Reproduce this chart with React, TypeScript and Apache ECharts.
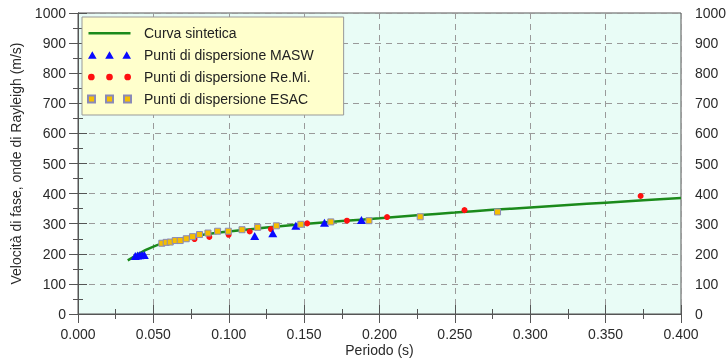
import React, { useEffect, useRef } from "react";
import * as echarts from "echarts";

const curveX = [0.033, 0.037, 0.041, 0.045, 0.050, 0.055, 0.060, 0.065, 0.070, 0.075, 0.080, 0.090, 0.100, 0.125, 0.150, 0.175, 0.200, 0.225, 0.250, 0.275, 0.300, 0.325, 0.350, 0.375, 0.400];
const curveY = [178, 190, 202, 213, 224, 233, 240, 247, 252, 257, 261, 268, 274, 287, 299, 309, 318, 328, 337, 346, 354, 362, 370, 378, 385];

const maswX = [0.038, 0.0395, 0.041, 0.0425, 0.044, 0.1172, 0.1292, 0.1445, 0.1635, 0.188];
const maswY = [193, 194, 195, 196, 196, 259, 268, 293, 303, 312];

const remiX = [0.0773, 0.0871, 0.0999, 0.1139, 0.128, 0.152, 0.1784, 0.205, 0.2564, 0.3732];
const remiY = [249, 256, 263, 274, 282, 301, 310, 322, 345, 392];

const esacX = [0.0556, 0.0585, 0.0612, 0.0645, 0.0678, 0.0718, 0.076, 0.0806, 0.0862, 0.0926, 0.0997, 0.1088, 0.1192, 0.1316, 0.1478, 0.1677, 0.193, 0.227, 0.2783];
const esacY = [235, 238, 239, 244, 244, 250, 257, 264, 269, 275, 275, 280, 288, 293, 298, 306, 310, 323, 339];

const seriesNames = [
  "Curva sintetica",
  "Punti di dispersione MASW",
  "Punti di dispersione Re.Mi.",
  "Punti di dispersione ESAC",
];

const xName = "Periodo (s)";
const yName = "Velocità di fase, onde di Rayleigh (m/s)";

const zip = (xs: number[], ys: number[]) => xs.map((x, i) => [x, ys[i]]);

const FONT = "Liberation Sans, Arial, sans-serif";

const lineIcon = "path://M0,3 L42,3 L42,5.5 L0,5.5 Z M0,0 L0.01,0 L0.01,8 L0,8 Z";
const triIcon = "path://M0,8 L4.5,0 L9,8 Z M18,8 L22.5,0 L27,8 Z M36,8 L40.5,0 L45,8 Z";
const circIcon =
  "path://M0,4 a3.5,3.5 0 1,0 7,0 a3.5,3.5 0 1,0 -7,0 Z M19,4 a3.5,3.5 0 1,0 7,0 a3.5,3.5 0 1,0 -7,0 Z M38,4 a3.5,3.5 0 1,0 7,0 a3.5,3.5 0 1,0 -7,0 Z";
const sqIcon = "path://M1,1 L8,1 L8,8 L1,8 Z M19,1 L26,1 L26,8 L19,8 Z M37,1 L44,1 L44,8 L37,8 Z";

export default function App() {
  const ref = useRef<HTMLDivElement>(null);
  useEffect(() => {
    if (!ref.current) return;
    const chart = echarts.init(ref.current, undefined, { renderer: "svg" });
    const axisLineStyle = { color: "#555", width: 1 };
    const labelStyle = { color: "#2a2a2a", fontSize: 14, fontFamily: FONT };
    const fmtY = (v: number) => String(v);
    chart.setOption({
      animation: false,
      textStyle: { fontFamily: FONT },
      grid: {
        left: 78,
        right: 47,
        top: 13,
        bottom: 45,
        outerBoundsMode: "none",
        containLabel: false,
        show: true,
        backgroundColor: "#e9fcf6",
        borderColor: "#555",
        borderWidth: 1,
      },
      legend: {
        orient: "vertical",
        left: 82,
        top: 17,
        backgroundColor: "#ffffcc",
        borderColor: "#999",
        borderWidth: 1,
        borderRadius: 0,
        padding: [8, 30, 8, 5],
        itemGap: 6,
        itemWidth: 43,
        itemHeight: 8,
        textStyle: { fontSize: 14, color: "#222", fontFamily: FONT, lineHeight: 16, padding: [0, 0, 0, 8] },
        data: [
          { name: seriesNames[0], icon: lineIcon, itemStyle: { color: "#1b8a1b" } },
          { name: seriesNames[1], icon: triIcon },
          { name: seriesNames[2], icon: circIcon },
          { name: seriesNames[3], icon: sqIcon },
        ],
      },
      xAxis: [
        {
          type: "value",
          min: 0,
          max: 0.4,
          interval: 0.05,
          position: "bottom",
          name: xName,
          nameLocation: "middle",
          nameGap: 29,
          nameMoveOverlap: false,
          nameTextStyle: { color: "#2a2a2a", fontSize: 14, lineHeight: 14, fontFamily: FONT },
          axisLine: { show: true, lineStyle: axisLineStyle },
          axisTick: { show: true, length: 9, lineStyle: axisLineStyle },
          minorTick: { show: true, splitNumber: 2, length: 5, lineStyle: axisLineStyle },
          axisLabel: { ...labelStyle, margin: 13, formatter: (v: number) => v.toFixed(3) },
          splitLine: { show: true, lineStyle: { color: "#9a9a9a", type: [6, 5], width: 1 } },
        },
        {
          type: "value",
          min: 0,
          max: 0.4,
          interval: 0.05,
          position: "top",
          axisLine: { show: true, lineStyle: axisLineStyle },
          axisTick: { show: true, length: 9, lineStyle: axisLineStyle },
          minorTick: { show: true, splitNumber: 2, length: 5, lineStyle: axisLineStyle },
          axisLabel: { show: false },
          splitLine: { show: false },
        },
      ],
      yAxis: [
        {
          type: "value",
          min: 0,
          max: 1000,
          interval: 100,
          position: "left",
          name: yName,
          nameLocation: "middle",
          nameGap: 55,
          nameMoveOverlap: false,
          nameTextStyle: { color: "#2a2a2a", fontSize: 14, fontFamily: FONT },
          axisLine: { show: true, lineStyle: axisLineStyle },
          axisTick: { show: true, length: 9, lineStyle: axisLineStyle },
          minorTick: { show: true, splitNumber: 2, length: 5, lineStyle: axisLineStyle },
          axisLabel: { ...labelStyle, margin: 12, formatter: fmtY },
          splitLine: { show: true, lineStyle: { color: "#9a9a9a", type: [6, 5], width: 1 } },
        },
        {
          type: "value",
          min: 0,
          max: 1000,
          interval: 100,
          position: "right",
          axisLine: { show: true, lineStyle: axisLineStyle },
          axisTick: { show: true, length: 9, lineStyle: axisLineStyle },
          minorTick: { show: true, splitNumber: 2, length: 5, lineStyle: axisLineStyle },
          axisLabel: { ...labelStyle, margin: 14, formatter: fmtY },
          splitLine: { show: false },
        },
      ],
      series: [
        {
          name: seriesNames[0],
          type: "line",
          data: zip(curveX, curveY),
          smooth: 0.3,
          symbol: "none",
          lineStyle: { color: "#1b8a1b", width: 2.5 },
          itemStyle: { color: "#1b8a1b" },
          z: 2,
        },
        {
          name: seriesNames[2],
          type: "scatter",
          data: zip(remiX, remiY),
          symbol: "circle",
          symbolSize: 6,
          itemStyle: { color: "#ff1010", opacity: 1 },
          z: 3,
        },
        {
          name: seriesNames[1],
          type: "scatter",
          data: zip(maswX, maswY),
          symbol: "triangle",
          symbolSize: [9, 8],
          itemStyle: { color: "#0a0aff", opacity: 1 },
          z: 4,
        },
        {
          name: seriesNames[3],
          type: "scatter",
          data: zip(esacX, esacY),
          symbol: "rect",
          symbolSize: 6,
          itemStyle: { color: "#f5be00", borderColor: "#8a8ab8", borderWidth: 1, opacity: 1 },
          z: 5,
        },
      ],
    });
    return () => chart.dispose();
  }, []);
  return <div ref={ref} style={{ position: "fixed", left: 0, top: 0, width: 728, height: 359 }} />;
}
